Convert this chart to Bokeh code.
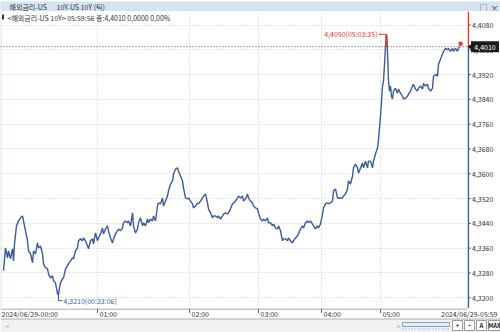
import numpy as np
from bokeh.plotting import figure
from bokeh.layouts import column, row
from bokeh.models import Range1d, FixedTicker, Grid, Label, Span
from bokeh.core.properties import value
from bokeh.embed import file_html
from bokeh.resources import INLINE

FONT = "Noto Sans CJK KR"
BLUE = "#3b5b9c"
RED = "#e0362c"
TEXT = "#333333"

# ---- data: US 10Y yield, tick chart (x = tick bar number) ----
bars = [3, 5, 7, 8, 10, 12, 13, 14, 16, 18, 20, 22, 23, 25, 27, 28, 30, 32, 33, 35,
        37, 38, 40, 42, 43, 45, 47, 48, 50, 52, 53, 55, 57, 58, 59, 60, 62, 63, 65, 67,
        68, 70, 72, 73, 75, 77, 78, 80, 82, 83, 85, 87, 88, 90, 92, 93, 95, 97, 98, 100,
        102, 103, 105, 107, 108, 110, 112, 113, 115, 117, 118, 120, 122, 123, 125, 127, 128, 130, 132, 133,
        135, 137, 138, 140, 142, 143, 145, 147, 148, 150, 152, 153, 155, 157, 158, 160, 162, 163, 165, 167,
        168, 170, 172, 173, 175, 177, 178, 180, 182, 183, 185, 187, 188, 190, 192, 193, 195, 197, 198, 200,
        202, 203, 205, 207, 208, 210, 212, 213, 215, 217, 218, 220, 222, 223, 225, 227, 228, 230, 232, 233,
        235, 237, 238, 240, 242, 243, 245, 247, 248, 250, 252, 253, 255, 257, 258, 260, 262, 263, 265, 267,
        268, 270, 272, 273, 275, 277, 278, 280, 282, 283, 285, 287, 288, 290, 292, 293, 295, 297, 298, 300,
        302, 303, 305, 307, 308, 310, 312, 313, 315, 317, 318, 320, 322, 323, 325, 327, 328, 330, 332, 333,
        335, 337, 338, 340, 342, 343, 345, 347, 348, 350, 352, 353, 355, 357, 358, 360, 362, 363, 365, 367,
        368, 370, 372, 373, 375, 377, 378, 380, 381, 382, 383, 384, 385, 386, 387, 388, 389, 390, 391, 392,
        393, 395, 397, 398, 400, 402, 403, 405, 407, 408, 410, 412, 413, 415, 417, 418, 420, 422, 423, 425,
        427, 428, 430, 432, 433, 435, 437, 438, 440, 442, 443, 445, 447, 448, 450, 452, 453, 455, 457, 458,
        459]
yields = [4.3287, 4.3361, 4.3329, 4.3351, 4.3326, 4.3358, 4.3319, 4.3374, 4.3432, 4.3448,
          4.3458, 4.3464, 4.3448, 4.3416, 4.3384, 4.3351, 4.3342, 4.3313, 4.3351, 4.3342,
          4.3377, 4.3361, 4.3367, 4.3342, 4.3310, 4.3297, 4.3293, 4.3277, 4.3264, 4.3271,
          4.3255, 4.3248, 4.3213, 4.3210, 4.3232, 4.3248, 4.3261, 4.3264, 4.3293, 4.3303,
          4.3310, 4.3319, 4.3329, 4.3326, 4.3351, 4.3361, 4.3384, 4.3390, 4.3384, 4.3393,
          4.3384, 4.3367, 4.3358, 4.3384, 4.3390, 4.3374, 4.3409, 4.3384, 4.3393, 4.3406,
          4.3425, 4.3406, 4.3422, 4.3432, 4.3416, 4.3393, 4.3377, 4.3390, 4.3406, 4.3416,
          4.3422, 4.3416, 4.3425, 4.3442, 4.3448, 4.3442, 4.3448, 4.3432, 4.3474, 4.3432,
          4.3409, 4.3422, 4.3442, 4.3458, 4.3432, 4.3442, 4.3432, 4.3454, 4.3442, 4.3454,
          4.3448, 4.3464, 4.3448, 4.3496, 4.3506, 4.3503, 4.3522, 4.3496, 4.3512, 4.3528,
          4.3545, 4.3567, 4.3577, 4.3599, 4.3615, 4.3619, 4.3609, 4.3593, 4.3577, 4.3554,
          4.3522, 4.3519, 4.3522, 4.3512, 4.3503, 4.3490, 4.3496, 4.3506, 4.3503, 4.3512,
          4.3522, 4.3528, 4.3535, 4.3506, 4.3487, 4.3474, 4.3458, 4.3464, 4.3464, 4.3458,
          4.3464, 4.3454, 4.3464, 4.3470, 4.3474, 4.3470, 4.3474, 4.3487, 4.3503, 4.3506,
          4.3512, 4.3522, 4.3528, 4.3522, 4.3528, 4.3512, 4.3519, 4.3535, 4.3522, 4.3512,
          4.3506, 4.3496, 4.3490, 4.3487, 4.3474, 4.3454, 4.3448, 4.3454, 4.3448, 4.3458,
          4.3442, 4.3442, 4.3432, 4.3438, 4.3425, 4.3422, 4.3432, 4.3416, 4.3384, 4.3390,
          4.3390, 4.3384, 4.3393, 4.3384, 4.3377, 4.3384, 4.3393, 4.3400, 4.3406, 4.3422,
          4.3432, 4.3425, 4.3442, 4.3448, 4.3442, 4.3448, 4.3438, 4.3432, 4.3422, 4.3432,
          4.3425, 4.3438, 4.3470, 4.3490, 4.3503, 4.3506, 4.3503, 4.3506, 4.3512, 4.3545,
          4.3551, 4.3522, 4.3522, 4.3522, 4.3522, 4.3528, 4.3535, 4.3551, 4.3577, 4.3567,
          4.3593, 4.3619, 4.3631, 4.3619, 4.3602, 4.3619, 4.3635, 4.3619, 4.3641, 4.3619,
          4.3641, 4.3641, 4.3619, 4.3641, 4.3664, 4.3683, 4.3712, 4.3786, 4.3834, 4.3883,
          4.3899, 4.3953, 4.4010, 4.4050, 4.3995, 4.3899, 4.3867, 4.3883, 4.3850, 4.3841,
          4.3867, 4.3876, 4.3860, 4.3873, 4.3860, 4.3850, 4.3841, 4.3844, 4.3850, 4.3857,
          4.3867, 4.3883, 4.3889, 4.3873, 4.3867, 4.3876, 4.3883, 4.3873, 4.3892, 4.3883,
          4.3889, 4.3876, 4.3867, 4.3876, 4.3915, 4.3921, 4.3915, 4.3953, 4.3970, 4.3986,
          4.3995, 4.4005, 4.4000, 4.4005, 4.3995, 4.4005, 4.3995, 4.4005, 4.3995, 4.4005,
          4.4010]

high_time = "05:03:35"
low_time = "00:33:06"
last_price = 4.4010
last_time = "05:59:56"

time_ticks = [97, 189, 258, 321, 380]
time_labels = ["01:00", "02:00", "03:00", "04:00", "05:00"]
first_label = "2024/06/29-00:00"
last_label = "2024/06/29-05:59"

y_ticks = [4.3200, 4.3280, 4.3360, 4.3440, 4.3520, 4.3600,
           4.3680, 4.3760, 4.3840, 4.3920, 4.4000, 4.4080]

title_left = "해외금리-US"
title_right = "10Y-US 10Y (틱)"
header = f"<해외금리-US 10Y> {last_time} 종:4,4010 0,0000 0,00%"


def fmt(v):
    return f"{v:.4f}".replace(".", ",")


def parts_above(xs, ys, level):
    """Pieces of the polyline that lie above `level`, split at the crossings."""
    pieces, cx, cy = [], [], []
    for i in range(len(xs)):
        x, y = xs[i], ys[i]
        if i > 0:
            x0, y0 = xs[i - 1], ys[i - 1]
            if (y0 > level) != (y > level) and y0 != y:
                xc = x0 + (level - y0) * (x - x0) / (y - y0)
                cx.append(xc)
                cy.append(level)
                if y0 > level:
                    pieces.append((cx, cy))
                    cx, cy = [], []
        if y > level:
            cx.append(x)
            cy.append(y)
    if cx:
        pieces.append((cx, cy))
    return pieces


FW, FH = 467, 297          # plotting area
SW = 500 - FW              # price scale strip
Y0, Y1 = 4.31654, 4.41236
X0, X1 = 0, FW
py = (Y1 - Y0) / FH        # value per screen pixel
px = (X1 - X0) / FW        # bars per screen pixel


def bare(fig):
    fig.grid.visible = False
    fig.outline_line_color = None
    return fig


# ---- title bar ----
t = bare(figure(width=500, height=11, x_range=Range1d(0, 500), y_range=Range1d(0, 11),
                x_axis_location=None, y_axis_location=None, toolbar_location=None,
                output_backend="svg", min_border=0, background_fill_color="#d6e4f1",
                border_fill_color="#d6e4f1"))
t.text(x=[9, 56], y=[5.5, 5.5], text=[title_left, title_right],
       text_font=value(FONT), text_font_size="7px", text_color=TEXT,
       text_baseline="middle")
t.text(x=[483, 494], y=[5.5, 5.5], text=["□", "×"], text_font=value(FONT),
       text_font_size="8px", text_color="#333", text_baseline="middle", text_align="center")
t.segment(x0=[0], y0=[0.4], x1=[500], y1=[0.4], line_color="#a8bed6", line_width=1)

# ---- main chart ----
p = bare(figure(width=FW, height=FH, x_range=Range1d(X0, X1), y_range=Range1d(Y0, Y1),
                x_axis_location=None, y_axis_location=None, toolbar_location=None,
                output_backend="svg", min_border=0,
                background_fill_color="white", border_fill_color="white"))
for dim, ticks in ((0, time_ticks), (1, y_ticks)):
    p.add_layout(Grid(dimension=dim, ticker=FixedTicker(ticks=ticks),
                      grid_line_color="#cfcfcf", grid_line_dash="1 2", grid_line_width=1))
p.segment(x0=[X0 + 0.5 * px], y0=[Y0], x1=[X0 + 0.5 * px], y1=[Y1],
          line_color="#c9d8e8", line_width=1)

# current price level
p.add_layout(Span(location=last_price, dimension="width", line_color="#444444",
                  line_dash="1 2", line_width=1))

# price series: blue, with the stretch above the current price in red
p.line(bars, yields, line_color=BLUE, line_width=1.4)
for xs_, ys_ in parts_above(bars, yields, last_price):
    p.line(xs_, ys_, line_color=RED, line_width=1.4)
p.scatter([bars[-1] + 1], [yields[-1] + 3 * py], marker="square", size=3, color=RED)

# high / low markers
ys_arr = np.array(yields)
hi_i, lo_i = int(np.argmax(ys_arr)), int(np.argmin(ys_arr))
hx, hy = bars[hi_i], yields[hi_i]
lx, ly = bars[lo_i], yields[lo_i]
p.line([hx - 8 * px, hx], [hy, hy], line_color=RED, line_width=1)
p.add_layout(Label(x=hx - 9 * px, y=hy, text=f"{fmt(hy)}({high_time})", text_align="right",
                   text_baseline="middle", text_font=FONT, text_font_size="7px",
                   text_color=RED))
p.line([lx, lx, lx + 4 * px], [ly, ly - 6 * py, ly - 6 * py], line_color=BLUE, line_width=1)
p.add_layout(Label(x=lx + 5 * px, y=ly - 6 * py, text=f"{fmt(ly)}({low_time})",
                   text_align="left", text_baseline="middle", text_font=FONT,
                   text_font_size="7px", text_color=BLUE))

# header line
p.quad(left=[X0 + 1.5 * px], right=[X0 + 3.5 * px], top=[Y1 - 3 * py], bottom=[Y1 - 8 * py],
       fill_color="#333333", line_color=None)
p.add_layout(Label(x=X0, y=Y1, x_offset=7, y_offset=-1, text=header, text_baseline="top",
                   text_font=FONT, text_font_size="7px", text_color=TEXT))

# ---- price scale (shares the value range with the chart) ----
r = bare(figure(width=SW, height=FH, x_range=Range1d(0, SW), y_range=p.y_range,
                x_axis_location=None, y_axis_location=None, toolbar_location=None,
                output_backend="svg", min_border=0,
                background_fill_color="white", border_fill_color="white"))
r.segment(x0=[0.8] * len(y_ticks), y0=y_ticks, x1=[3.5] * len(y_ticks), y1=y_ticks,
          line_color="#666666", line_width=1)
r.text(x=[4.5] * len(y_ticks), y=y_ticks, text=[fmt(v) for v in y_ticks],
       text_font=value(FONT), text_font_size="7px", text_color=TEXT, text_baseline="middle")
r.line([0.8, 0.8], [Y0, last_price], line_color=BLUE, line_width=1.6)
r.line([0.8, 0.8], [last_price, Y1], line_color=RED, line_width=1.6)
r.quad(left=[3.5], right=[31.5], bottom=[last_price - 5.5 * py], top=[last_price + 5.5 * py],
       fill_color="#1c1c1c", line_color=None)
r.scatter([2.5], [last_price], marker="triangle", angle=np.pi / 2, size=5,
          fill_color="#1c1c1c", line_color=None)
r.text(x=[17.5], y=[last_price], text=[fmt(last_price)], text_font=value(FONT),
       text_font_size="7px", text_color="white", text_baseline="middle", text_align="center")

# ---- time scale and scroll strip ----
b = bare(figure(width=500, height=24, x_range=Range1d(X0, X0 + 500 * px), y_range=Range1d(0, 24),
                x_axis_location=None, y_axis_location=None, toolbar_location=None,
                output_backend="svg", min_border=0, background_fill_color="white",
                border_fill_color="white"))
b.segment(x0=[X0], y0=[23.5], x1=[X1], y1=[23.5], line_color="#8c8c8c", line_width=1)
b.segment(x0=time_ticks, y0=[23.5] * len(time_ticks), x1=time_ticks,
          y1=[19.5] * len(time_ticks), line_color="#666666", line_width=1)
b.text(x=[X0 + 1 * px] + [tk + 2 * px for tk in time_ticks] + [X0 + 497 * px],
       y=[19] * (len(time_ticks) + 2),
       text=[first_label] + time_labels + [last_label],
       text_align=["left"] * (len(time_ticks) + 1) + ["right"],
       text_font=value(FONT), text_font_size="7px", text_color=TEXT, text_baseline="middle")
# scroll strip
b.quad(left=[X0], right=[X0 + 500 * px], bottom=[0], top=[13.5], fill_color="#f1f1f1",
       line_color=None)
b.segment(x0=[X0], y0=[13.5], x1=[X0 + 500 * px], y1=[13.5], line_color="#b0b0b0", line_width=1)
b.text(x=[5, 396], y=[7, 7], text=["<", ">"], text_font=value(FONT), text_font_size="7px",
       text_color="#aaaaaa", text_baseline="middle")
b.quad(left=[402], right=[449], bottom=[6], top=[10], fill_color="#e4ecf6",
       line_color="#8aa0bd", line_width=1)
b.segment(x0=[402], y0=[3.5], x1=[449], y1=[3.5], line_color="#8aa0bd", line_dash="1 2")
b.quad(left=[452, 464, 476, 488], right=[462, 474, 486, 499.5], bottom=[2, 2, 2, 2],
       top=[12, 12, 12, 12], fill_color="white", line_color="#9a9a9a", line_width=1)
b.text(x=[457, 469, 481, 494], y=[7, 7, 7, 7], text=["+", "−", "A", "MAX"],
       text_font=value(FONT), text_font_size="6px", text_color="#222",
       text_baseline="middle", text_align="center", text_font_style="bold")

layout = column(t, row(p, r, spacing=0), b, spacing=0)
open("out.html", "w").write(file_html(layout, INLINE))
